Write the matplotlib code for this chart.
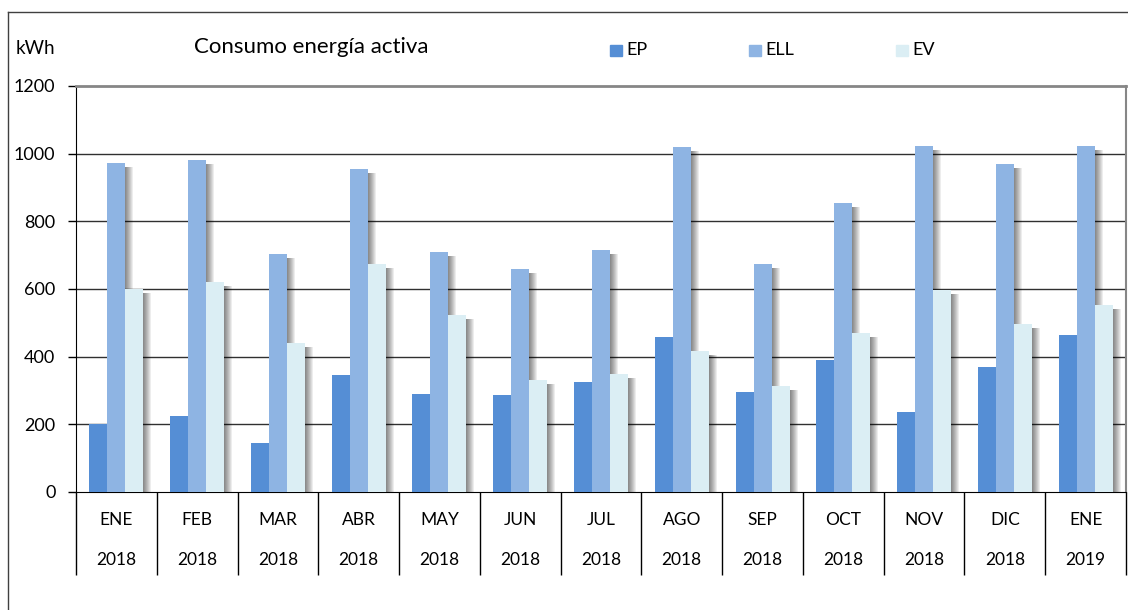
import numpy as np
import matplotlib.pyplot as plt
from matplotlib.patches import Rectangle
from matplotlib.lines import Line2D
import matplotlib.transforms as mtrans

plt.rcParams['font.family'] = ['Lato', 'DejaVu Sans']

# datos (kWh)
meses = ['ENE', 'FEB', 'MAR', 'ABR', 'MAY', 'JUN', 'JUL', 'AGO', 'SEP', 'OCT', 'NOV', 'DIC', 'ENE']
anios = ['2018'] * 12 + ['2019']
EP = [202, 224, 144, 347, 290, 287, 326, 459, 295, 390, 236, 369, 464]
ELL = [972, 980, 703, 954, 708, 659, 716, 1019, 673, 853, 1022, 968, 1022]
EV = [600, 620, 440, 673, 523, 331, 349, 417, 312, 469, 597, 496, 554]

series = ['EP', 'ELL', 'EV']
colores = ['#558ED5', '#8EB4E3', '#DBEEF4']

W, H = 1128, 610
fig = plt.figure(figsize=(W / 100, H / 100), dpi=100)
# área del gráfico en píxeles: x 76..1126, y 86..492
ax = fig.add_axes([76 / W, 1 - 492 / H, (1126 - 76) / W, (492 - 86) / H])

x = np.arange(len(meses))
ancho = 18 / 80.8          # ancho de barra en unidades de categoría
px = 1 / 80.8              # un píxel en x
py = 1200 / 406            # un píxel en y

for i, (vals, c) in enumerate(zip([EP, ELL, EV], colores)):
    pos = x + (i - 1) * ancho
    v = np.array(vals, dtype=float)
    # sombra difusa a la derecha
    for d in range(1, 9):
        ax.bar(pos + d * px, np.maximum(v - 4 * py, 0), ancho, color='black',
               alpha=0.07, linewidth=0, zorder=2)
    ax.bar(pos, v, ancho, color=c, linewidth=0, zorder=3)

ax.set_xlim(-0.5, len(meses) - 0.5)
ax.set_ylim(0, 1200)
ax.set_yticks(np.arange(0, 1201, 200))
for yv in range(200, 1200, 200):
    ax.axhline(yv, color='#303030', lw=1, zorder=1)

ax.spines['left'].set_color('black')
ax.spines['bottom'].set_color('black')
ax.spines['top'].set_color('#868686')
ax.spines['top'].set_linewidth(2)
ax.spines['right'].set_color('#868686')
ax.spines['right'].set_linewidth(1.5)

ax.tick_params(axis='y', direction='out', length=5.8, width=1, color='black',
               labelsize=13, pad=9)
ax.set_xticks(np.arange(-0.5, len(meses), 1))
ax.set_xticklabels([])
ax.tick_params(axis='x', direction='out', length=59.8, width=1, color='black')
ax.xaxis.get_major_ticks()[-1].tick1line.set_color('#868686')

trans = mtrans.blended_transform_factory(ax.transData, ax.transAxes)
for xi, m, a in zip(x, meses, anios):
    ax.text(xi, -0.069, m, transform=trans, ha='center', va='center', fontsize=12.5)
    ax.text(xi, -0.1675, a, transform=trans, ha='center', va='center', fontsize=12.5)

# marco exterior (solo se ven los lados izquierdo y superior)
fig.add_artist(Line2D([8 / W, 8 / W], [0, 1 - 12 / H], color='#404040', lw=1))
fig.add_artist(Line2D([8 / W, 1], [1 - 12 / H, 1 - 12 / H], color='#404040', lw=1))

fig.text(16 / W, 1 - 48.5 / H, 'kWh', ha='left', va='center', fontsize=13.5)
fig.text(194 / W, 1 - 47 / H, 'Consumo energía activa', ha='left', va='center', fontsize=16)

# leyenda
leg_x = [610, 749, 896]
for lx, nombre, c in zip(leg_x, series, colores):
    fig.add_artist(Rectangle((lx / W, 1 - 56 / H), 11.5 / W, 11.5 / H, color=c,
                             transform=fig.transFigure))
    fig.text((lx + 16) / W, 1 - 50 / H, nombre, ha='left', va='center', fontsize=13)

fig.savefig('out.png', dpi=100)
